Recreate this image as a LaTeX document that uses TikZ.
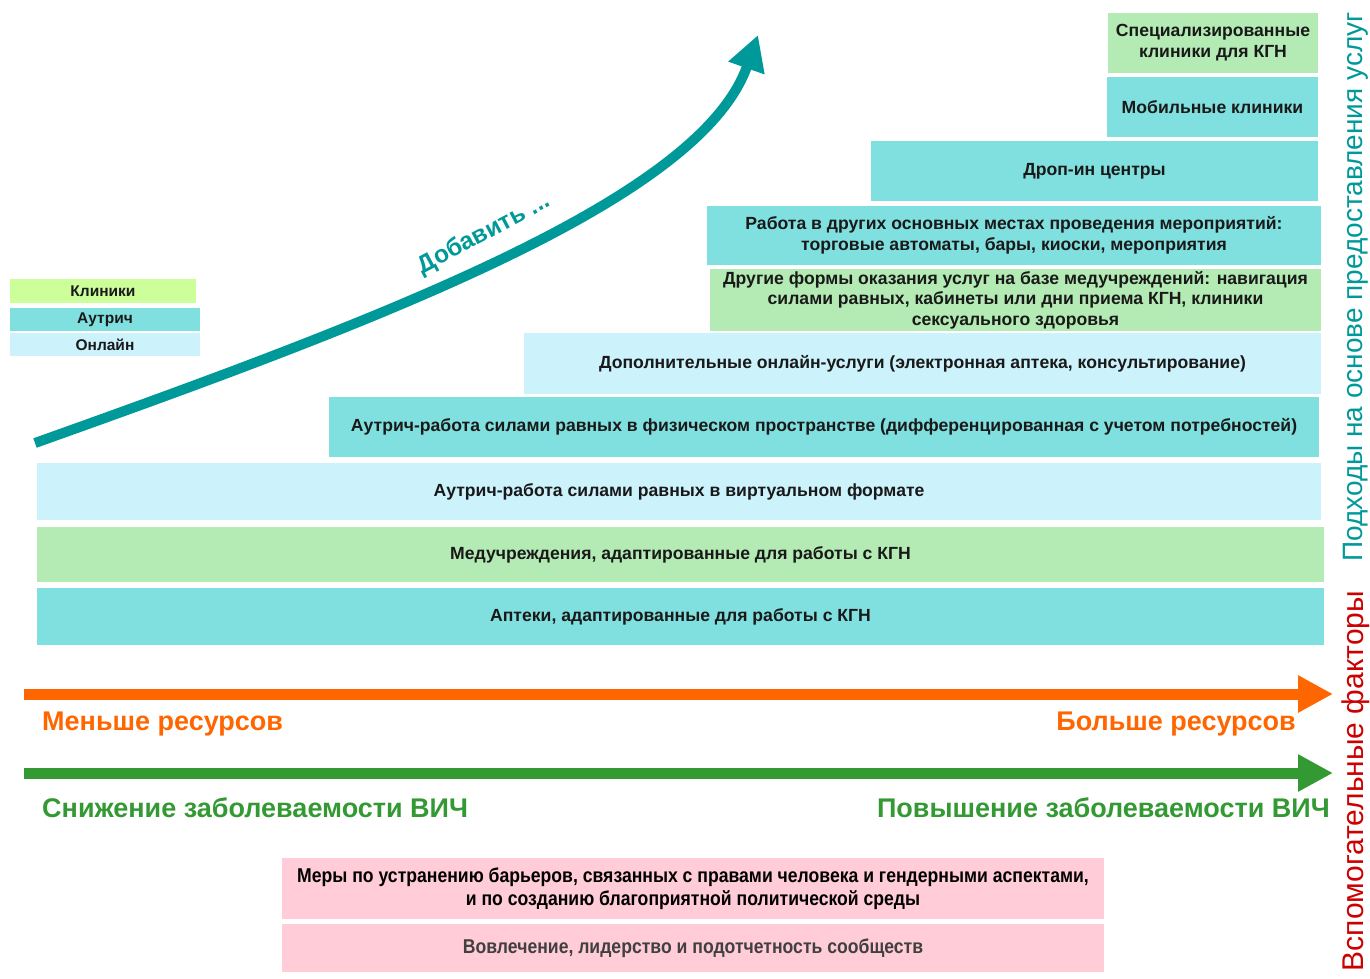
\documentclass[tikz,border=0pt]{standalone}
\usepackage{fontspec}
\setmainfont{Liberation Sans}
\newfontfamily\narrowfont{Liberation Sans}[FakeStretch=0.88]
\usetikzlibrary{arrows.meta}
\definecolor{tealbox}{RGB}{128,224,223}
\definecolor{greenbox}{RGB}{180,235,180}
\definecolor{bluebox}{RGB}{204,242,252}
\definecolor{limebox}{RGB}{204,255,153}
\definecolor{pinkbox}{RGB}{255,204,216}
\definecolor{tealline}{RGB}{0,153,153}
\definecolor{orangec}{RGB}{255,102,0}
\definecolor{greenc}{RGB}{51,153,51}
\definecolor{redc}{RGB}{204,0,0}
\definecolor{grayt}{RGB}{64,64,64}
\tikzset{
  box/.style={draw=none, inner sep=0pt, align=center, font=\bfseries\fontsize{17.6}{21}\selectfont, text=black!90},
  legend/.style={draw=none, inner sep=0pt, align=center, font=\bfseries\fontsize{15.5}{18}\selectfont, text=black!90},
  pinkstyle/.style={draw=none, fill=pinkbox, inner sep=0pt, align=center, font=\narrowfont\bfseries\fontsize{20}{23}\selectfont},
  scale label/.style={inner sep=0pt, font=\bfseries\fontsize{27}{30}\selectfont},
  bigarrow/.style={line width=11pt, -{Triangle[length=35pt,width=35pt]}},
  sidetext/.style={inner sep=0pt, rotate=90, font=\fontsize{28}{32}\selectfont}
}
\begin{document}
\begin{tikzpicture}[x=1pt,y=-1pt]
\useasboundingbox (0,0) rectangle (1370,978);
% stacked boxes
\node[box, fill=tealbox, minimum width=1287pt, minimum height=57pt] (apt) at (680.5,616.5) {Аптеки, адаптированные для работы с КГН};
\node[box, fill=greenbox, minimum width=1287pt, minimum height=55pt] (med) at (680.5,554.5) {Медучреждения, адаптированные для работы с КГН};
\node[box, fill=bluebox, minimum width=1284pt, minimum height=57pt] (virt) at (679,491.5) {Аутрич-работа силами равных в виртуальном формате};
\node[box, fill=tealbox, minimum width=990pt, minimum height=60pt] (phys) at (824,427) {Аутрич-работа силами равных в физическом пространстве (дифференцированная с учетом потребностей)};
\node[box, fill=bluebox, minimum width=797pt, minimum height=61pt] (onl) at (922.5,363.5) {Дополнительные онлайн-услуги (электронная аптека, консультирование)};
\node[box, fill=greenbox, minimum width=611pt, minimum height=62pt, font=\bfseries\fontsize{17.6}{20.5}\selectfont] (oth) at (1015.5,300) {Другие формы оказания услуг на базе медучреждений: навигация\\силами равных, кабинеты или дни приема КГН, клиники\\сексуального здоровья};
\node[box, fill=tealbox, minimum width=614pt, minimum height=59pt] (work) at (1014,235.5) {Работа в других основных местах проведения мероприятий:\\торговые автоматы, бары, киоски, мероприятия};
\node[box, fill=tealbox, minimum width=447pt, minimum height=60pt] (drop) at (1094.5,171) {Дроп-ин центры};
\node[box, fill=tealbox, minimum width=211pt, minimum height=60pt] (mob) at (1212.5,107) {Мобильные клиники};
\node[box, fill=greenbox, minimum width=210pt, minimum height=60pt] (spec) at (1213,43) {Специализированные\\клиники для КГН};
% legend
\node[legend, fill=limebox, minimum width=186pt, minimum height=24pt] (lk) at (103,291) {Клиники};
\node[legend, fill=tealbox, minimum width=190pt, minimum height=23pt] (la) at (105,319.5) {Аутрич};
\node[legend, fill=bluebox, minimum width=190pt, minimum height=23pt] (lo) at (105,344.5) {Онлайн};
% curved arrow
\coordinate (cs) at (35,443);
\coordinate (ce) at (758,35);
\draw[tealline, line width=10pt, -{Triangle[length=35pt,width=36pt]}] (cs) .. controls (380,320) and (700,200) .. (ce);
\node[text=tealline, font=\bfseries\fontsize{24.5}{28}\selectfont, rotate=28, inner sep=0pt] (add) at (484,234) {Добавить ...};
% scale arrows
\coordinate (os) at (24,694);
\coordinate (oe) at (1333,694);
\coordinate (gs) at (24,773);
\coordinate (ge) at (1333,773);
\draw[orangec, bigarrow] (os) -- (oe);
\draw[greenc, bigarrow] (gs) -- (ge);
\node[scale label, text=orangec, anchor=west] (less) at (42,724) {Меньше ресурсов};
\node[scale label, text=orangec, anchor=east] (more) at (1296,724) {Больше ресурсов};
\node[scale label, text=greenc, anchor=west] (low) at (42,808) {Снижение заболеваемости ВИЧ};
\node[scale label, text=greenc, anchor=east] (high) at (1330,808) {Повышение заболеваемости ВИЧ};
% side texts
\node[sidetext, text=tealline] (svc) at (1356,287) {Подходы на основе предоставления услуг};
\node[sidetext, text=redc, font=\fontsize{30}{34}\selectfont] (enab) at (1356,781) {Вспомогательные факторы};
% pink boxes
\node[pinkstyle, minimum width=822pt, minimum height=61pt] (p1) at (693,888.5) {Меры по устранению барьеров, связанных с правами человека и гендерными аспектами,\\и по созданию благоприятной политической среды};
\node[pinkstyle, minimum width=822pt, minimum height=48pt, text=grayt] (p2) at (693,948) {Вовлечение, лидерство и подотчетность сообществ};
\end{tikzpicture}
\end{document}
